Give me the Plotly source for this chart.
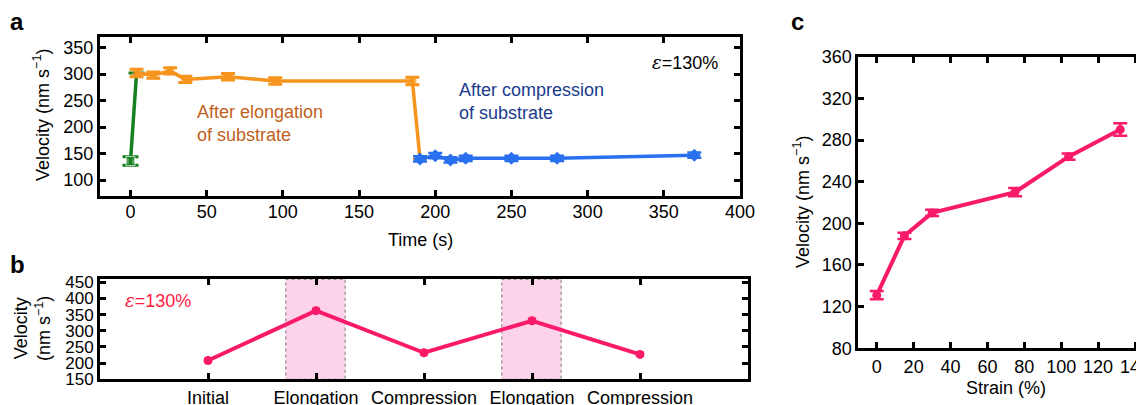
import plotly.graph_objects as go

W, H = 1144, 405
OX, OY = 8, 8  # page body margin offset of the plot div
FONT = "Liberation Sans, Arial, Helvetica, sans-serif"

# ---------------- Panel a data ----------------
green_t = [0, 4]
green_v = [136, 302]
green_err = [8, 0]

orange_t = [4, 15, 26, 36, 64, 95, 185, 190]
orange_v = [302, 298, 306, 290, 295, 287, 287, 140]
orange_err = [7, 6, 6, 6, 6, 6, 7, 0]

blue_t = [190, 200, 210, 220, 250, 280, 370]
blue_v = [140, 146, 138, 141, 141, 141, 147]
blue_err = [5, 5, 5, 5, 5, 5, 5]

a_xticks = [0, 50, 100, 150, 200, 250, 300, 350, 400]
a_yticks = [100, 150, 200, 250, 300, 350]

# ---------------- Panel b data ----------------
stages = ["Initial", "Elongation", "Compression", "Elongation", "Compression"]
stage_pos = [1, 2, 3, 4, 5]
stage_v = [208, 362, 232, 331, 227]
stage_err = [5, 6, 5, 6, 5]
elong_pos = [2, 4]
b_yticks = [150, 200, 250, 300, 350, 400, 450]

# ---------------- Panel c data ----------------
strain = [0, 15, 30, 75, 104, 132]
vel_c = [131, 188, 210, 230, 264, 290]
err_c = [4, 3, 3, 4, 3, 6]
c_xticks = [0, 20, 40, 60, 80, 100, 120, 140]
c_yticks = [80, 120, 160, 200, 240, 280, 320, 360]

ORANGE = "#F7941D"
GREEN = "#15801F"
BLUE = "#2970EE"
PINK = "#FA1A6A"
BROWN = "#C0601C"
NAVY = "#1B3B8C"

fig = go.Figure()

fig.add_trace(go.Scatter(
    x=green_t, y=green_v, mode="lines+markers", xaxis="x", yaxis="y",
    line=dict(color=GREEN, width=3.5), marker=dict(color=GREEN, size=[9, 0], symbol="square"),
    error_y=dict(type="data", array=green_err, color=GREEN, thickness=3, width=8),
    showlegend=False))
fig.add_trace(go.Scatter(
    x=orange_t, y=orange_v, mode="lines+markers", xaxis="x", yaxis="y",
    line=dict(color=ORANGE, width=3.5),
    marker=dict(color=ORANGE, size=[8] * (len(orange_t) - 1) + [0], symbol="square",
                line=dict(width=0)),
    error_y=dict(type="data", array=orange_err, color=ORANGE, thickness=3, width=7),
    showlegend=False))
fig.add_trace(go.Scatter(
    x=blue_t, y=blue_v, mode="lines+markers", xaxis="x", yaxis="y",
    line=dict(color=BLUE, width=3.5), marker=dict(color=BLUE, size=10, symbol="diamond"),
    error_y=dict(type="data", array=blue_err, color=BLUE, thickness=2.5, width=7),
    showlegend=False))

fig.add_trace(go.Scatter(
    x=stage_pos, y=stage_v, mode="lines+markers", xaxis="x2", yaxis="y2",
    line=dict(color=PINK, width=4), marker=dict(color=PINK, size=9),
    error_y=dict(type="data", array=stage_err, color=PINK, thickness=2, width=4),
    showlegend=False))

fig.add_trace(go.Scatter(
    x=strain, y=vel_c, mode="lines+markers", xaxis="x3", yaxis="y3",
    line=dict(color=PINK, width=4), marker=dict(color=PINK, size=9),
    error_y=dict(type="data", array=err_c, color=PINK, thickness=2.5, width=7),
    showlegend=False))


def axis(size=18, **kw):
    d = dict(showline=True, linecolor="black", linewidth=3, ticks="inside",
             ticklen=6, tickwidth=3, tickcolor="black", showgrid=False, zeroline=False,
             automargin=False,
             tickfont=dict(family=FONT, size=size, color="black"))
    d.update(kw)
    return d


def dx(x0, x1):
    return [(x0 - OX) / W, min(1.0, (x1 - OX) / W)]


def dy(y_top, y_bot):
    return [1 - (y_bot - OY) / H, 1 - (y_top - OY) / H]


# panel c's right edge runs past the window edge (as in the reference)
c_right_val = (W + OX - 876.7) / ((1135 - 876.7) / 140.0)

fig.update_layout(
    width=W, height=H, margin=dict(l=0, r=0, t=0, b=0, pad=0, autoexpand=False),
    paper_bgcolor="white", plot_bgcolor="white",
    font=dict(family=FONT, size=18, color="black"),
    xaxis=axis(domain=dx(100, 740), range=[-20, 400], tickvals=a_xticks,
               mirror="ticks", anchor="y", ticklabelstandoff=-3),
    yaxis=axis(domain=dy(37, 196), range=[70, 370], tickvals=a_yticks,
               mirror="ticks", anchor="x"),
    xaxis2=axis(domain=dx(100, 748), range=[0, 6], tickvals=stage_pos, ticktext=stages,
                mirror="ticks", anchor="y2"),
    yaxis2=axis(size=17, domain=dy(279.3, 379.3), range=[150, 459],
                tickvals=b_yticks, mirror="ticks", anchor="x2"),
    xaxis3=axis(domain=dx(858.3, W + OX), range=[-10, c_right_val], tickvals=c_xticks,
                mirror="ticks", anchor="y3"),
    yaxis3=axis(domain=dy(56.7, 348.3), range=[80, 360], tickvals=c_yticks,
                mirror=False, anchor="x3"),
)

shapes = []
for p in elong_pos:
    shapes.append(dict(type="rect", xref="x2", yref="y2 domain", x0=p - 0.28, x1=p + 0.27,
                       y0=0, y1=1, fillcolor="#FDD3EA", layer="below",
                       line=dict(color="#777777", width=1, dash="dot")))
fig.update_layout(shapes=shapes)


def px(x, y):
    return (x - OX) / W, 1 - (y - OY) / H


annots = []


def ann(text, x, y, size=18, color="black", xanchor="center", angle=0, align="center"):
    ax, ay = px(x, y)
    annots.append(dict(text=text, x=ax, y=ay, xref="paper", yref="paper", showarrow=False,
                       xanchor=xanchor, yanchor="middle", textangle=angle, align=align,
                       font=dict(family=FONT, size=size, color=color)))


ann("<b>a</b>", 17, 22, size=24)
ann("<b>b</b>", 17, 264, size=24)
ann("<b>c</b>", 797, 22, size=24)

ann("Velocity (nm s<sup>−1</sup>)", 42, 115, angle=-90)
ann("Time (s)", 420, 240)
ann("Velocity<br>(nm s<sup>−1</sup>)", 32, 329, angle=-90)
ann("Strain (%)", 1006, 388)
ann("Velocity (nm s<sup>−1</sup>)", 802, 202, angle=-90)

ann("After elongation<br>of substrate", 195, 123.5, color=BROWN, xanchor="left", align="left")
ann("After compression<br>of substrate", 457, 102, color=NAVY, xanchor="left", align="left")
ann("<span style='font-family:DejaVu Serif'><i>ε</i></span>=130%", 650, 63, xanchor="left")
ann("<span style='font-family:DejaVu Serif'><i>ε</i></span>=130%", 123, 300, color="#FF1A40", xanchor="left")

fig.update_layout(annotations=annots)

fig.write_html("out.html")
